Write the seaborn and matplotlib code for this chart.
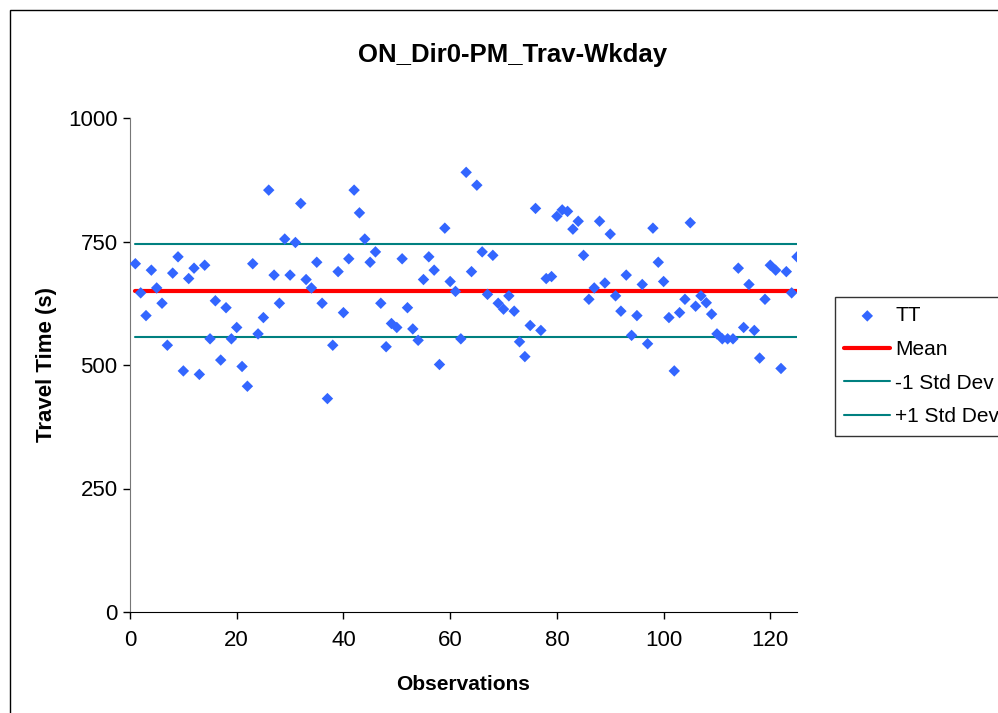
import numpy as np
import pandas as pd
import matplotlib
matplotlib.use("Agg")
import matplotlib.pyplot as plt
import seaborn as sns
from matplotlib.patches import Rectangle

# travel time per observation
travel_time = [
    705, 646, 600, 692, 656, 625, 540, 686, 719, 488,
    675, 696, 481, 702, 553, 630, 510, 616, 553, 576,
    497, 457, 705, 563, 596, 854, 682, 625, 755, 682,
    748, 827, 673, 656, 708, 625, 432, 540, 689, 606,
    715, 854, 808, 755, 708, 729, 625, 537, 584, 576,
    715, 616, 573, 550, 673, 719, 692, 501, 777, 669,
    649, 553, 890, 689, 864, 729, 643, 722, 625, 613,
    640, 609, 547, 517, 580, 817, 570, 675, 679, 801,
    814, 811, 775, 791, 722, 633, 656, 791, 666, 765,
    640, 609, 682, 560, 600, 663, 543, 777, 708, 669,
    596, 488, 606, 633, 788, 619, 640, 626, 603, 563,
    553, 553, 553, 696, 576, 663, 570, 514, 633, 702,
    692, 493, 689, 646, 719,
]
observations = list(range(1, len(travel_time) + 1))

df = pd.DataFrame({"Observation": observations, "TT": travel_time})
mean_tt = df["TT"].mean()
std_tt = df["TT"].std()
df["Mean"] = mean_tt
df["-1 Std Dev"] = mean_tt - std_tt
df["+1 Std Dev"] = mean_tt + std_tt

sns.set_style("white")
plt.rcParams["font.family"] = ["Liberation Sans", "DejaVu Sans"]
plt.rcParams["text.color"] = "black"
plt.rcParams["axes.labelcolor"] = "black"
plt.rcParams["xtick.color"] = "black"
plt.rcParams["ytick.color"] = "black"

fig = plt.figure(figsize=(9.98, 7.13), dpi=100)
ax = fig.add_axes([130 / 998, 101 / 713, 667 / 998, 494 / 713])

sns.lineplot(data=df, x="Observation", y="Mean", color="#ff0000", linewidth=3,
             label="Mean", ax=ax, zorder=2)
sns.lineplot(data=df, x="Observation", y="-1 Std Dev", color="#008080", linewidth=1.5,
             label="-1 Std Dev", ax=ax, zorder=2)
sns.lineplot(data=df, x="Observation", y="+1 Std Dev", color="#008080", linewidth=1.5,
             label="+1 Std Dev", ax=ax, zorder=2)
sns.scatterplot(data=df, x="Observation", y="TT", marker="D", s=34, color="#3366ff",
                edgecolor="none", label="TT", ax=ax, zorder=3)

ax.set_xlim(0, 125)
ax.set_ylim(0, 1000)
ax.set_xticks([0, 20, 40, 60, 80, 100, 120])
ax.set_yticks([0, 250, 500, 750, 1000])
ax.tick_params(axis="both", direction="out", length=5, width=1, color="black",
               labelsize=16, bottom=True, left=True)
ax.tick_params(axis="x", pad=8)
ax.tick_params(axis="y", pad=4)
for side in ["top", "right"]:
    ax.spines[side].set_visible(False)
ax.spines["left"].set_color("#777777")
ax.spines["bottom"].set_color("black")

# title is centred over the whole chart area, not the plot area
ax.set_title("ON_Dir0-PM_Trav-Wkday", fontsize=18.5, fontweight="bold", pad=40,
             x=(513 - 130) / 667)
ax.set_xlabel("Observations", fontsize=15, fontweight="bold", labelpad=17)
ax.set_ylabel("Travel Time (s)", fontsize=16, fontweight="bold", labelpad=8)

handles, labels = ax.get_legend_handles_labels()
order = [labels.index(k) for k in ["TT", "Mean", "-1 Std Dev", "+1 Std Dev"]]
leg = ax.legend([handles[i] for i in order], [labels[i] for i in order],
                loc="upper left", bbox_to_anchor=(835 / 998, 1 - 297 / 713),
                bbox_transform=fig.transFigure, fontsize=15, frameon=True,
                fancybox=False, edgecolor="black", borderpad=0.45,
                labelspacing=0.7, handlelength=2.2, handletextpad=0.25,
                borderaxespad=0)
leg.get_frame().set_linewidth(1)

# outer chart border
fig.patches.append(Rectangle((10 / 998, -0.1), 1.2, 1 - 10 / 713 + 0.1,
                             transform=fig.transFigure, fill=False,
                             edgecolor="black", linewidth=1))

fig.savefig("out.png", dpi=100)
